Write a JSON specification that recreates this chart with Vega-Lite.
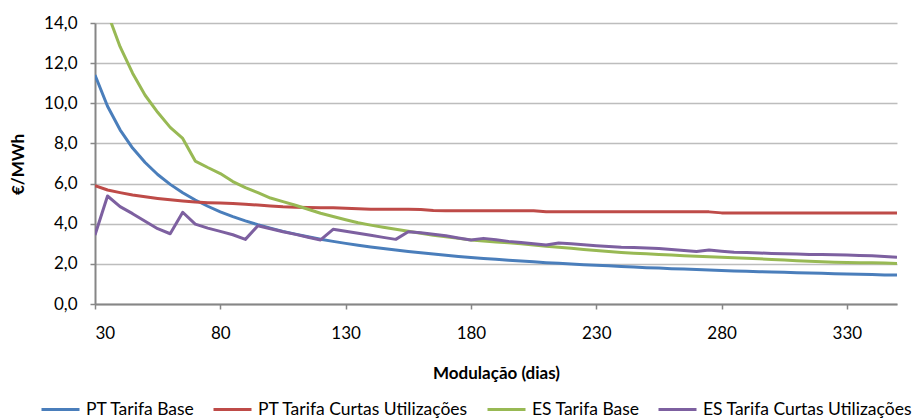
{
  "$schema": "https://vega.github.io/schema/vega-lite/v6.json",
  "width": 802,
  "height": 281,
  "autosize": {"type": "none"},
  "padding": {"left": 95, "top": 23, "right": 22, "bottom": 115},
  "background": "white",
  "datasets": {
    "precos": [
      {"dias": 30, "serie": "PT Tarifa Base", "valor": 11.41},
      {"dias": 35, "serie": "PT Tarifa Base", "valor": 9.85},
      {"dias": 40, "serie": "PT Tarifa Base", "valor": 8.68},
      {"dias": 45, "serie": "PT Tarifa Base", "valor": 7.77},
      {"dias": 50, "serie": "PT Tarifa Base", "valor": 7.05},
      {"dias": 55, "serie": "PT Tarifa Base", "valor": 6.45},
      {"dias": 60, "serie": "PT Tarifa Base", "valor": 5.96},
      {"dias": 65, "serie": "PT Tarifa Base", "valor": 5.54},
      {"dias": 70, "serie": "PT Tarifa Base", "valor": 5.18},
      {"dias": 75, "serie": "PT Tarifa Base", "valor": 4.87},
      {"dias": 80, "serie": "PT Tarifa Base", "valor": 4.59},
      {"dias": 85, "serie": "PT Tarifa Base", "valor": 4.35},
      {"dias": 90, "serie": "PT Tarifa Base", "valor": 4.14},
      {"dias": 95, "serie": "PT Tarifa Base", "valor": 3.95},
      {"dias": 100, "serie": "PT Tarifa Base", "valor": 3.78},
      {"dias": 105, "serie": "PT Tarifa Base", "valor": 3.62},
      {"dias": 110, "serie": "PT Tarifa Base", "valor": 3.48},
      {"dias": 115, "serie": "PT Tarifa Base", "valor": 3.35},
      {"dias": 120, "serie": "PT Tarifa Base", "valor": 3.23},
      {"dias": 125, "serie": "PT Tarifa Base", "valor": 3.12},
      {"dias": 130, "serie": "PT Tarifa Base", "valor": 3.02},
      {"dias": 135, "serie": "PT Tarifa Base", "valor": 2.93},
      {"dias": 140, "serie": "PT Tarifa Base", "valor": 2.84},
      {"dias": 145, "serie": "PT Tarifa Base", "valor": 2.76},
      {"dias": 150, "serie": "PT Tarifa Base", "valor": 2.69},
      {"dias": 155, "serie": "PT Tarifa Base", "valor": 2.62},
      {"dias": 160, "serie": "PT Tarifa Base", "valor": 2.55},
      {"dias": 165, "serie": "PT Tarifa Base", "valor": 2.49},
      {"dias": 170, "serie": "PT Tarifa Base", "valor": 2.43},
      {"dias": 175, "serie": "PT Tarifa Base", "valor": 2.37},
      {"dias": 180, "serie": "PT Tarifa Base", "valor": 2.32},
      {"dias": 185, "serie": "PT Tarifa Base", "valor": 2.27},
      {"dias": 190, "serie": "PT Tarifa Base", "valor": 2.23},
      {"dias": 195, "serie": "PT Tarifa Base", "valor": 2.18},
      {"dias": 200, "serie": "PT Tarifa Base", "valor": 2.14},
      {"dias": 205, "serie": "PT Tarifa Base", "valor": 2.10},
      {"dias": 210, "serie": "PT Tarifa Base", "valor": 2.06},
      {"dias": 215, "serie": "PT Tarifa Base", "valor": 2.03},
      {"dias": 220, "serie": "PT Tarifa Base", "valor": 1.99},
      {"dias": 225, "serie": "PT Tarifa Base", "valor": 1.96},
      {"dias": 230, "serie": "PT Tarifa Base", "valor": 1.93},
      {"dias": 235, "serie": "PT Tarifa Base", "valor": 1.90},
      {"dias": 240, "serie": "PT Tarifa Base", "valor": 1.87},
      {"dias": 245, "serie": "PT Tarifa Base", "valor": 1.84},
      {"dias": 250, "serie": "PT Tarifa Base", "valor": 1.81},
      {"dias": 255, "serie": "PT Tarifa Base", "valor": 1.79},
      {"dias": 260, "serie": "PT Tarifa Base", "valor": 1.76},
      {"dias": 265, "serie": "PT Tarifa Base", "valor": 1.74},
      {"dias": 270, "serie": "PT Tarifa Base", "valor": 1.72},
      {"dias": 275, "serie": "PT Tarifa Base", "valor": 1.69},
      {"dias": 280, "serie": "PT Tarifa Base", "valor": 1.67},
      {"dias": 285, "serie": "PT Tarifa Base", "valor": 1.65},
      {"dias": 290, "serie": "PT Tarifa Base", "valor": 1.63},
      {"dias": 295, "serie": "PT Tarifa Base", "valor": 1.61},
      {"dias": 300, "serie": "PT Tarifa Base", "valor": 1.59},
      {"dias": 305, "serie": "PT Tarifa Base", "valor": 1.58},
      {"dias": 310, "serie": "PT Tarifa Base", "valor": 1.56},
      {"dias": 315, "serie": "PT Tarifa Base", "valor": 1.54},
      {"dias": 320, "serie": "PT Tarifa Base", "valor": 1.53},
      {"dias": 325, "serie": "PT Tarifa Base", "valor": 1.51},
      {"dias": 330, "serie": "PT Tarifa Base", "valor": 1.50},
      {"dias": 335, "serie": "PT Tarifa Base", "valor": 1.48},
      {"dias": 340, "serie": "PT Tarifa Base", "valor": 1.47},
      {"dias": 345, "serie": "PT Tarifa Base", "valor": 1.45},
      {"dias": 350, "serie": "PT Tarifa Base", "valor": 1.44},

      {"dias": 30, "serie": "PT Tarifa Curtas Utilizações", "valor": 5.90},
      {"dias": 35, "serie": "PT Tarifa Curtas Utilizações", "valor": 5.68},
      {"dias": 40, "serie": "PT Tarifa Curtas Utilizações", "valor": 5.55},
      {"dias": 45, "serie": "PT Tarifa Curtas Utilizações", "valor": 5.43},
      {"dias": 50, "serie": "PT Tarifa Curtas Utilizações", "valor": 5.34},
      {"dias": 55, "serie": "PT Tarifa Curtas Utilizações", "valor": 5.26},
      {"dias": 60, "serie": "PT Tarifa Curtas Utilizações", "valor": 5.19},
      {"dias": 65, "serie": "PT Tarifa Curtas Utilizações", "valor": 5.13},
      {"dias": 70, "serie": "PT Tarifa Curtas Utilizações", "valor": 5.08},
      {"dias": 75, "serie": "PT Tarifa Curtas Utilizações", "valor": 5.05},
      {"dias": 80, "serie": "PT Tarifa Curtas Utilizações", "valor": 5.03},
      {"dias": 85, "serie": "PT Tarifa Curtas Utilizações", "valor": 5.01},
      {"dias": 90, "serie": "PT Tarifa Curtas Utilizações", "valor": 4.97},
      {"dias": 95, "serie": "PT Tarifa Curtas Utilizações", "valor": 4.93},
      {"dias": 100, "serie": "PT Tarifa Curtas Utilizações", "valor": 4.88},
      {"dias": 105, "serie": "PT Tarifa Curtas Utilizações", "valor": 4.84},
      {"dias": 110, "serie": "PT Tarifa Curtas Utilizações", "valor": 4.82},
      {"dias": 115, "serie": "PT Tarifa Curtas Utilizações", "valor": 4.81},
      {"dias": 120, "serie": "PT Tarifa Curtas Utilizações", "valor": 4.80},
      {"dias": 125, "serie": "PT Tarifa Curtas Utilizações", "valor": 4.80},
      {"dias": 130, "serie": "PT Tarifa Curtas Utilizações", "valor": 4.77},
      {"dias": 135, "serie": "PT Tarifa Curtas Utilizações", "valor": 4.74},
      {"dias": 140, "serie": "PT Tarifa Curtas Utilizações", "valor": 4.72},
      {"dias": 145, "serie": "PT Tarifa Curtas Utilizações", "valor": 4.72},
      {"dias": 150, "serie": "PT Tarifa Curtas Utilizações", "valor": 4.72},
      {"dias": 155, "serie": "PT Tarifa Curtas Utilizações", "valor": 4.72},
      {"dias": 160, "serie": "PT Tarifa Curtas Utilizações", "valor": 4.71},
      {"dias": 165, "serie": "PT Tarifa Curtas Utilizações", "valor": 4.66},
      {"dias": 170, "serie": "PT Tarifa Curtas Utilizações", "valor": 4.65},
      {"dias": 175, "serie": "PT Tarifa Curtas Utilizações", "valor": 4.65},
      {"dias": 180, "serie": "PT Tarifa Curtas Utilizações", "valor": 4.65},
      {"dias": 185, "serie": "PT Tarifa Curtas Utilizações", "valor": 4.65},
      {"dias": 190, "serie": "PT Tarifa Curtas Utilizações", "valor": 4.65},
      {"dias": 195, "serie": "PT Tarifa Curtas Utilizações", "valor": 4.65},
      {"dias": 200, "serie": "PT Tarifa Curtas Utilizações", "valor": 4.65},
      {"dias": 205, "serie": "PT Tarifa Curtas Utilizações", "valor": 4.65},
      {"dias": 210, "serie": "PT Tarifa Curtas Utilizações", "valor": 4.60},
      {"dias": 215, "serie": "PT Tarifa Curtas Utilizações", "valor": 4.59},
      {"dias": 220, "serie": "PT Tarifa Curtas Utilizações", "valor": 4.59},
      {"dias": 225, "serie": "PT Tarifa Curtas Utilizações", "valor": 4.59},
      {"dias": 230, "serie": "PT Tarifa Curtas Utilizações", "valor": 4.59},
      {"dias": 235, "serie": "PT Tarifa Curtas Utilizações", "valor": 4.59},
      {"dias": 240, "serie": "PT Tarifa Curtas Utilizações", "valor": 4.59},
      {"dias": 245, "serie": "PT Tarifa Curtas Utilizações", "valor": 4.59},
      {"dias": 250, "serie": "PT Tarifa Curtas Utilizações", "valor": 4.59},
      {"dias": 255, "serie": "PT Tarifa Curtas Utilizações", "valor": 4.59},
      {"dias": 260, "serie": "PT Tarifa Curtas Utilizações", "valor": 4.59},
      {"dias": 265, "serie": "PT Tarifa Curtas Utilizações", "valor": 4.59},
      {"dias": 270, "serie": "PT Tarifa Curtas Utilizações", "valor": 4.59},
      {"dias": 275, "serie": "PT Tarifa Curtas Utilizações", "valor": 4.59},
      {"dias": 280, "serie": "PT Tarifa Curtas Utilizações", "valor": 4.54},
      {"dias": 285, "serie": "PT Tarifa Curtas Utilizações", "valor": 4.54},
      {"dias": 290, "serie": "PT Tarifa Curtas Utilizações", "valor": 4.54},
      {"dias": 295, "serie": "PT Tarifa Curtas Utilizações", "valor": 4.54},
      {"dias": 300, "serie": "PT Tarifa Curtas Utilizações", "valor": 4.54},
      {"dias": 305, "serie": "PT Tarifa Curtas Utilizações", "valor": 4.54},
      {"dias": 310, "serie": "PT Tarifa Curtas Utilizações", "valor": 4.54},
      {"dias": 315, "serie": "PT Tarifa Curtas Utilizações", "valor": 4.54},
      {"dias": 320, "serie": "PT Tarifa Curtas Utilizações", "valor": 4.54},
      {"dias": 325, "serie": "PT Tarifa Curtas Utilizações", "valor": 4.54},
      {"dias": 330, "serie": "PT Tarifa Curtas Utilizações", "valor": 4.54},
      {"dias": 335, "serie": "PT Tarifa Curtas Utilizações", "valor": 4.54},
      {"dias": 340, "serie": "PT Tarifa Curtas Utilizações", "valor": 4.54},
      {"dias": 345, "serie": "PT Tarifa Curtas Utilizações", "valor": 4.54},
      {"dias": 350, "serie": "PT Tarifa Curtas Utilizações", "valor": 4.54},

      {"dias": 30, "serie": "ES Tarifa Base", "valor": 17.5},
      {"dias": 35, "serie": "ES Tarifa Base", "valor": 14.5},
      {"dias": 40, "serie": "ES Tarifa Base", "valor": 12.82},
      {"dias": 45, "serie": "ES Tarifa Base", "valor": 11.5},
      {"dias": 50, "serie": "ES Tarifa Base", "valor": 10.4},
      {"dias": 55, "serie": "ES Tarifa Base", "valor": 9.55},
      {"dias": 60, "serie": "ES Tarifa Base", "valor": 8.8},
      {"dias": 65, "serie": "ES Tarifa Base", "valor": 8.25},
      {"dias": 70, "serie": "ES Tarifa Base", "valor": 7.12},
      {"dias": 75, "serie": "ES Tarifa Base", "valor": 6.8},
      {"dias": 80, "serie": "ES Tarifa Base", "valor": 6.5},
      {"dias": 85, "serie": "ES Tarifa Base", "valor": 6.1},
      {"dias": 90, "serie": "ES Tarifa Base", "valor": 5.8},
      {"dias": 95, "serie": "ES Tarifa Base", "valor": 5.55},
      {"dias": 100, "serie": "ES Tarifa Base", "valor": 5.28},
      {"dias": 105, "serie": "ES Tarifa Base", "valor": 5.1},
      {"dias": 110, "serie": "ES Tarifa Base", "valor": 4.92},
      {"dias": 115, "serie": "ES Tarifa Base", "valor": 4.72},
      {"dias": 120, "serie": "ES Tarifa Base", "valor": 4.52},
      {"dias": 125, "serie": "ES Tarifa Base", "valor": 4.36},
      {"dias": 130, "serie": "ES Tarifa Base", "valor": 4.2},
      {"dias": 135, "serie": "ES Tarifa Base", "valor": 4.05},
      {"dias": 140, "serie": "ES Tarifa Base", "valor": 3.93},
      {"dias": 145, "serie": "ES Tarifa Base", "valor": 3.82},
      {"dias": 150, "serie": "ES Tarifa Base", "valor": 3.72},
      {"dias": 155, "serie": "ES Tarifa Base", "valor": 3.62},
      {"dias": 160, "serie": "ES Tarifa Base", "valor": 3.52},
      {"dias": 165, "serie": "ES Tarifa Base", "valor": 3.43},
      {"dias": 170, "serie": "ES Tarifa Base", "valor": 3.35},
      {"dias": 175, "serie": "ES Tarifa Base", "valor": 3.27},
      {"dias": 180, "serie": "ES Tarifa Base", "valor": 3.19},
      {"dias": 185, "serie": "ES Tarifa Base", "valor": 3.14},
      {"dias": 190, "serie": "ES Tarifa Base", "valor": 3.09},
      {"dias": 195, "serie": "ES Tarifa Base", "valor": 3.05},
      {"dias": 200, "serie": "ES Tarifa Base", "valor": 3.0},
      {"dias": 205, "serie": "ES Tarifa Base", "valor": 2.94},
      {"dias": 210, "serie": "ES Tarifa Base", "valor": 2.88},
      {"dias": 215, "serie": "ES Tarifa Base", "valor": 2.83},
      {"dias": 220, "serie": "ES Tarifa Base", "valor": 2.78},
      {"dias": 225, "serie": "ES Tarifa Base", "valor": 2.72},
      {"dias": 230, "serie": "ES Tarifa Base", "valor": 2.66},
      {"dias": 235, "serie": "ES Tarifa Base", "valor": 2.61},
      {"dias": 240, "serie": "ES Tarifa Base", "valor": 2.57},
      {"dias": 245, "serie": "ES Tarifa Base", "valor": 2.53},
      {"dias": 250, "serie": "ES Tarifa Base", "valor": 2.5},
      {"dias": 255, "serie": "ES Tarifa Base", "valor": 2.47},
      {"dias": 260, "serie": "ES Tarifa Base", "valor": 2.44},
      {"dias": 265, "serie": "ES Tarifa Base", "valor": 2.41},
      {"dias": 270, "serie": "ES Tarifa Base", "valor": 2.38},
      {"dias": 275, "serie": "ES Tarifa Base", "valor": 2.35},
      {"dias": 280, "serie": "ES Tarifa Base", "valor": 2.33},
      {"dias": 285, "serie": "ES Tarifa Base", "valor": 2.31},
      {"dias": 290, "serie": "ES Tarifa Base", "valor": 2.28},
      {"dias": 295, "serie": "ES Tarifa Base", "valor": 2.25},
      {"dias": 300, "serie": "ES Tarifa Base", "valor": 2.22},
      {"dias": 305, "serie": "ES Tarifa Base", "valor": 2.19},
      {"dias": 310, "serie": "ES Tarifa Base", "valor": 2.16},
      {"dias": 315, "serie": "ES Tarifa Base", "valor": 2.13},
      {"dias": 320, "serie": "ES Tarifa Base", "valor": 2.1},
      {"dias": 325, "serie": "ES Tarifa Base", "valor": 2.08},
      {"dias": 330, "serie": "ES Tarifa Base", "valor": 2.07},
      {"dias": 335, "serie": "ES Tarifa Base", "valor": 2.06},
      {"dias": 340, "serie": "ES Tarifa Base", "valor": 2.05},
      {"dias": 345, "serie": "ES Tarifa Base", "valor": 2.04},
      {"dias": 350, "serie": "ES Tarifa Base", "valor": 2.02},

      {"dias": 30, "serie": "ES Tarifa Curtas Utilizações", "valor": 3.44},
      {"dias": 35, "serie": "ES Tarifa Curtas Utilizações", "valor": 5.38},
      {"dias": 40, "serie": "ES Tarifa Curtas Utilizações", "valor": 4.85},
      {"dias": 45, "serie": "ES Tarifa Curtas Utilizações", "valor": 4.5},
      {"dias": 50, "serie": "ES Tarifa Curtas Utilizações", "valor": 4.12},
      {"dias": 55, "serie": "ES Tarifa Curtas Utilizações", "valor": 3.75},
      {"dias": 60, "serie": "ES Tarifa Curtas Utilizações", "valor": 3.5},
      {"dias": 65, "serie": "ES Tarifa Curtas Utilizações", "valor": 4.57},
      {"dias": 70, "serie": "ES Tarifa Curtas Utilizações", "valor": 3.98},
      {"dias": 75, "serie": "ES Tarifa Curtas Utilizações", "valor": 3.78},
      {"dias": 80, "serie": "ES Tarifa Curtas Utilizações", "valor": 3.62},
      {"dias": 85, "serie": "ES Tarifa Curtas Utilizações", "valor": 3.45},
      {"dias": 90, "serie": "ES Tarifa Curtas Utilizações", "valor": 3.22},
      {"dias": 95, "serie": "ES Tarifa Curtas Utilizações", "valor": 3.9},
      {"dias": 100, "serie": "ES Tarifa Curtas Utilizações", "valor": 3.75},
      {"dias": 105, "serie": "ES Tarifa Curtas Utilizações", "valor": 3.6},
      {"dias": 110, "serie": "ES Tarifa Curtas Utilizações", "valor": 3.47},
      {"dias": 115, "serie": "ES Tarifa Curtas Utilizações", "valor": 3.33},
      {"dias": 120, "serie": "ES Tarifa Curtas Utilizações", "valor": 3.19},
      {"dias": 125, "serie": "ES Tarifa Curtas Utilizações", "valor": 3.72},
      {"dias": 130, "serie": "ES Tarifa Curtas Utilizações", "valor": 3.62},
      {"dias": 135, "serie": "ES Tarifa Curtas Utilizações", "valor": 3.52},
      {"dias": 140, "serie": "ES Tarifa Curtas Utilizações", "valor": 3.42},
      {"dias": 145, "serie": "ES Tarifa Curtas Utilizações", "valor": 3.32},
      {"dias": 150, "serie": "ES Tarifa Curtas Utilizações", "valor": 3.22},
      {"dias": 155, "serie": "ES Tarifa Curtas Utilizações", "valor": 3.6},
      {"dias": 160, "serie": "ES Tarifa Curtas Utilizações", "valor": 3.55},
      {"dias": 165, "serie": "ES Tarifa Curtas Utilizações", "valor": 3.48},
      {"dias": 170, "serie": "ES Tarifa Curtas Utilizações", "valor": 3.4},
      {"dias": 175, "serie": "ES Tarifa Curtas Utilizações", "valor": 3.29},
      {"dias": 180, "serie": "ES Tarifa Curtas Utilizações", "valor": 3.19},
      {"dias": 185, "serie": "ES Tarifa Curtas Utilizações", "valor": 3.27},
      {"dias": 190, "serie": "ES Tarifa Curtas Utilizações", "valor": 3.2},
      {"dias": 195, "serie": "ES Tarifa Curtas Utilizações", "valor": 3.12},
      {"dias": 200, "serie": "ES Tarifa Curtas Utilizações", "valor": 3.06},
      {"dias": 205, "serie": "ES Tarifa Curtas Utilizações", "valor": 3.0},
      {"dias": 210, "serie": "ES Tarifa Curtas Utilizações", "valor": 2.94},
      {"dias": 215, "serie": "ES Tarifa Curtas Utilizações", "valor": 3.04},
      {"dias": 220, "serie": "ES Tarifa Curtas Utilizações", "valor": 3.0},
      {"dias": 225, "serie": "ES Tarifa Curtas Utilizações", "valor": 2.95},
      {"dias": 230, "serie": "ES Tarifa Curtas Utilizações", "valor": 2.9},
      {"dias": 235, "serie": "ES Tarifa Curtas Utilizações", "valor": 2.86},
      {"dias": 240, "serie": "ES Tarifa Curtas Utilizações", "valor": 2.83},
      {"dias": 245, "serie": "ES Tarifa Curtas Utilizações", "valor": 2.82},
      {"dias": 250, "serie": "ES Tarifa Curtas Utilizações", "valor": 2.79},
      {"dias": 255, "serie": "ES Tarifa Curtas Utilizações", "valor": 2.77},
      {"dias": 260, "serie": "ES Tarifa Curtas Utilizações", "valor": 2.72},
      {"dias": 265, "serie": "ES Tarifa Curtas Utilizações", "valor": 2.67},
      {"dias": 270, "serie": "ES Tarifa Curtas Utilizações", "valor": 2.62},
      {"dias": 275, "serie": "ES Tarifa Curtas Utilizações", "valor": 2.69},
      {"dias": 280, "serie": "ES Tarifa Curtas Utilizações", "valor": 2.63},
      {"dias": 285, "serie": "ES Tarifa Curtas Utilizações", "valor": 2.58},
      {"dias": 290, "serie": "ES Tarifa Curtas Utilizações", "valor": 2.56},
      {"dias": 295, "serie": "ES Tarifa Curtas Utilizações", "valor": 2.54},
      {"dias": 300, "serie": "ES Tarifa Curtas Utilizações", "valor": 2.52},
      {"dias": 305, "serie": "ES Tarifa Curtas Utilizações", "valor": 2.5},
      {"dias": 310, "serie": "ES Tarifa Curtas Utilizações", "valor": 2.49},
      {"dias": 315, "serie": "ES Tarifa Curtas Utilizações", "valor": 2.47},
      {"dias": 320, "serie": "ES Tarifa Curtas Utilizações", "valor": 2.46},
      {"dias": 325, "serie": "ES Tarifa Curtas Utilizações", "valor": 2.45},
      {"dias": 330, "serie": "ES Tarifa Curtas Utilizações", "valor": 2.44},
      {"dias": 335, "serie": "ES Tarifa Curtas Utilizações", "valor": 2.42},
      {"dias": 340, "serie": "ES Tarifa Curtas Utilizações", "valor": 2.4},
      {"dias": 345, "serie": "ES Tarifa Curtas Utilizações", "valor": 2.37},
      {"dias": 350, "serie": "ES Tarifa Curtas Utilizações", "valor": 2.33}
    ]
  },
  "data": {"name": "precos"},
  "mark": {"type": "line", "strokeWidth": 3, "clip": true, "strokeJoin": "round"},
  "encoding": {
    "x": {
      "field": "dias",
      "type": "quantitative",
      "scale": {"domain": [30, 350], "nice": false, "zero": false},
      "axis": {
        "title": "Modulação (dias)",
        "values": [30, 80, 130, 180, 230, 280, 330],
        "grid": false,
        "labelPadding": 16,
        "titleBaseline": "middle",
        "titleY": 69,
        "titleX": 401,
        "titleAnchor": "middle"
      }
    },
    "y": {
      "field": "valor",
      "type": "quantitative",
      "scale": {"domain": [0, 14], "nice": false, "zero": true},
      "axis": {
        "title": "€/MWh",
        "values": [0, 2, 4, 6, 8, 10, 12, 14],
        "labelExpr": "replace(format(datum.value, '.1f'), '.', ',')",
        "grid": true,
        "labelPadding": 13,
        "titleX": -77,
        "titleY": 141,
        "titleAngle": -90,
        "titleBaseline": "middle",
        "titleAlign": "center"
      }
    },
    "color": {
      "field": "serie",
      "type": "nominal",
      "sort": ["PT Tarifa Base", "PT Tarifa Curtas Utilizações", "ES Tarifa Base", "ES Tarifa Curtas Utilizações"],
      "scale": {
        "domain": ["PT Tarifa Base", "PT Tarifa Curtas Utilizações", "ES Tarifa Base", "ES Tarifa Curtas Utilizações"],
        "range": ["#4A7EBB", "#BE4B48", "#98B954", "#7D60A0"]
      },
      "legend": {
        "title": null,
        "orient": "none",
        "legendX": -55,
        "legendY": 366,
        "direction": "horizontal",
        "columns": 4,
        "symbolType": "stroke",
        "symbolSize": 1444,
        "symbolStrokeWidth": 3,
        "labelFontSize": 17.5,
        "labelFont": "Lato",
        "labelColor": "#000000",
        "labelLimit": 0,
        "labelOffset": 5,
        "columnPadding": 12
      }
    }
  },
  "config": {
    "view": {"stroke": null},
    "font": "Lato",
    "axis": {
      "labelFont": "Lato",
      "labelFontSize": 17,
      "labelColor": "#000000",
      "titleFont": "Lato",
      "titleFontSize": 17,
      "titleFontWeight": "bold",
      "titleColor": "#000000",
      "domainColor": "#868686",
      "domainWidth": 2,
      "tickColor": "#868686",
      "tickWidth": 1.5,
      "tickSize": 5,
      "gridColor": "#BDBDBD",
      "gridWidth": 1.5
    }
  }
}
